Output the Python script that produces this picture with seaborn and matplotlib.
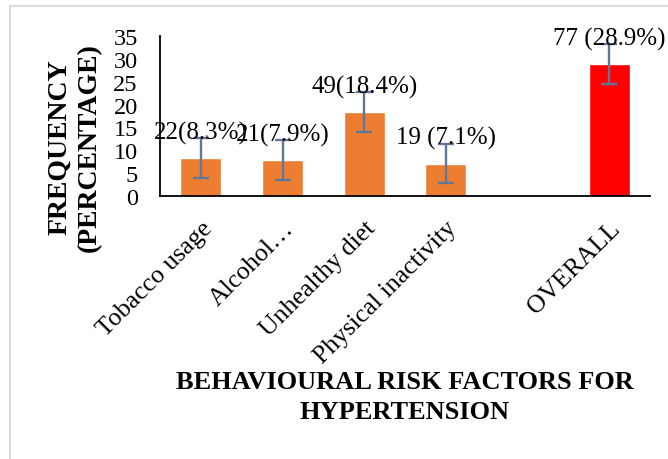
import pandas as pd
import seaborn as sns
import matplotlib.pyplot as plt
from matplotlib.patches import Rectangle

# data
categories = ["Tobacco usage", "Alcohol…", "Unhealthy diet", "Physical inactivity", " ", "OVERALL"]
factors = ["Tobacco usage", "Alcohol…", "Unhealthy diet", "Physical inactivity", "OVERALL"]
percent = [8.3, 7.9, 18.4, 7.1, 28.9]
errors = [4.3, 4.3, 4.3, 4.3, 4.3]
labels = ["22(8.3%)", "21(7.9%)", "49(18.4%)", "19 (7.1%)", "77 (28.9%)"]
colors = {"Tobacco usage": "#ED7D31", "Alcohol…": "#ED7D31", "Unhealthy diet": "#ED7D31",
          "Physical inactivity": "#ED7D31", "OVERALL": "#FF0000"}

df = pd.DataFrame({"factor": factors, "pct": percent})

sns.set_theme(style="white")
plt.rcParams['font.family'] = ['Liberation Serif', 'DejaVu Serif']
plt.rcParams['text.color'] = 'black'
plt.rcParams['axes.labelcolor'] = 'black'

fig = plt.figure(figsize=(6.68, 4.6), dpi=100)
ax = fig.add_axes([160 / 668, 1 - 197 / 460, 490 / 668, 160 / 460])

# light frame round the chart area
fig.patches.append(Rectangle((10 / 668, -0.1), 1.2, 1.1 - 7 / 460, transform=fig.transFigure,
                             fill=False, edgecolor="#D9DCE3", linewidth=1.5))

sns.barplot(data=df, x="factor", y="pct", hue="factor", order=categories,
            palette=colors, width=0.5, legend=False, ax=ax, saturation=1)

# error bars and value labels
xpos = [categories.index(f) for f in factors]
ax.errorbar(xpos, percent, yerr=errors, fmt="none", ecolor="#5F7897",
            elinewidth=1.7, capsize=5.5, capthick=1.7)
for x, v, t in zip(xpos, percent, labels):
    ax.text(x, v + 5.6, t, ha="center", va="center", fontsize=18, color="black")

ax.set_ylim(0, 35)
ax.set_yticks(range(0, 36, 5))
ax.set_xlim(-0.5, len(categories) - 0.5)

for s in ["top", "right"]:
    ax.spines[s].set_visible(False)
for s in ["left", "bottom"]:
    ax.spines[s].set_color("black")
    ax.spines[s].set_linewidth(1.3)

ax.tick_params(axis="y", length=0, pad=16, labelsize=17.5, labelcolor="black")
ax.tick_params(axis="x", length=0, pad=15, labelsize=18.5, labelcolor="black")
plt.setp(ax.get_xticklabels(), rotation=45, ha="right", rotation_mode="anchor")

ax.set_ylabel("FREQUENCY\n(PERCENTAGE)", fontsize=20, fontweight="bold", linespacing=1.25)
ax.yaxis.set_label_coords(-0.118, 0.31)
ax.set_xlabel("BEHAVIOURAL RISK FACTORS FOR\nHYPERTENSION", fontsize=19, fontweight="bold",
              linespacing=1.35)
ax.xaxis.set_label_coords(0.5, -1.09)

plt.savefig("out.png", dpi=100)
